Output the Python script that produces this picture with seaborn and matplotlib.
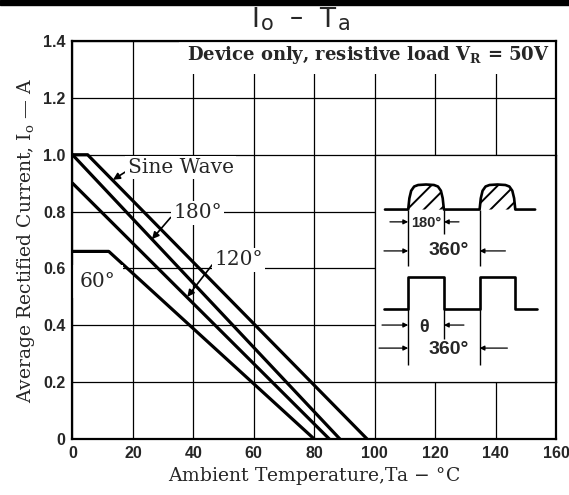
import numpy as np
import pandas as pd
import matplotlib
matplotlib.use("Agg")
import matplotlib.pyplot as plt
import seaborn as sns
from matplotlib.patches import Rectangle

# derating curves (Ta in degC, Io in A)
sine_ta = [0, 5, 97.5]
sine_io = [1.0, 1.0, 0.0]
deg180_ta = [0, 88.5]
deg180_io = [1.0, 0.0]
deg120_ta = [0, 85]
deg120_io = [0.9, 0.0]
deg60_ta = [0, 12, 80]
deg60_io = [0.66, 0.66, 0.0]

x_ticks = [0, 20, 40, 60, 80, 100, 120, 140, 160]
y_ticks = [0, 0.2, 0.4, 0.6, 0.8, 1.0, 1.2, 1.4]
y_ticklabels = ["0", "0.2", "0.4", "0.6", "0.8", "1.0", "1.2", "1.4"]

# inset waveform sketch (phase in degrees)
bump_phase = [0, 6, 15, 30, 50, 90, 130, 150, 165, 174, 180]
bump_level = [0, 0.45, 0.75, 0.92, 0.98, 1.0, 0.98, 0.92, 0.75, 0.45, 0]
rect_phase = [-123, 0, 0, 180, 180, 360, 360, 540, 540, 650]
rect_level = [0, 0, 1, 1, 0, 0, 1, 1, 0, 0]

curves = pd.concat([
    pd.DataFrame({"ta": sine_ta, "io": sine_io, "curve": "sine"}),
    pd.DataFrame({"ta": deg180_ta, "io": deg180_io, "curve": "180"}),
    pd.DataFrame({"ta": deg120_ta, "io": deg120_io, "curve": "120"}),
    pd.DataFrame({"ta": deg60_ta, "io": deg60_io, "curve": "60"}),
])

sns.set_style("white")
plt.rcParams["font.family"] = ["DejaVu Serif"]
plt.rcParams["mathtext.fontset"] = "custom"
plt.rcParams["mathtext.rm"] = "DejaVu Serif"
plt.rcParams["mathtext.bf"] = "DejaVu Serif:bold"
plt.rcParams["hatch.linewidth"] = 1.4

fig = plt.figure(figsize=(5.69, 4.95), dpi=100)
ax = fig.add_axes([0.1274, 0.1131, 0.8497, 0.804])

sns.lineplot(data=curves, x="ta", y="io", units="curve", estimator=None,
             sort=False, color="black", lw=2.3, ax=ax)

ax.set_xlim(0, 160)
ax.set_ylim(0, 1.4)
ax.set_xticks(x_ticks)
ax.set_yticks(y_ticks)
ax.set_yticklabels(y_ticklabels)
ax.grid(True, color="black", lw=0.9)
for sp in ax.spines.values():
    sp.set_visible(True)
    sp.set_color("black")
    sp.set_linewidth(1.6)
    sp.set_zorder(6)
ax.tick_params(axis="y", length=4, width=1.2, color="black", pad=1)
ax.tick_params(axis="x", length=0, pad=5)
for lab in ax.get_xticklabels() + ax.get_yticklabels():
    lab.set_fontfamily("Liberation Sans")
    lab.set_fontweight("bold")
    lab.set_fontsize(11.5)

ax.set_xlabel("Ambient Temperature,Ta $-$ °C", fontsize=13.5, labelpad=3)
ax.set_ylabel("Average Rectified Current, I$_\\mathregular{o}$ — A", fontsize=13.5, labelpad=4)

# title "Io - Ta" with lowered o and a
tkw = dict(family="DejaVu Sans", fontsize=19, va="baseline", ha="left")
fig.text(251 / 569, 1 - 27 / 495, "I", **tkw)
fig.text(261 / 569, 1 - 30 / 495, "o", **dict(tkw, fontsize=15))
fig.text(290 / 569, 1 - 25 / 495, "–", **tkw)
fig.text(319 / 569, 1 - 27 / 495, "T", **tkw)
fig.text(338 / 569, 1 - 30 / 495, "a", **dict(tkw, fontsize=15))
fig.add_artist(Rectangle((0, 1 - 5 / 495), 1, 5 / 495, transform=fig.transFigure,
                         color="black"))

white = dict(boxstyle="square,pad=0.12", fc="white", ec="none")
arrow = dict(arrowstyle="-|>", color="black", lw=1.2, shrinkA=0, shrinkB=0,
             mutation_scale=10)

ax.text(98, 1.352, "Device only, resistive load V$_\\mathbf{R}$ = 50V",
        ha="center", va="center", fontsize=13, weight="bold",
        bbox=dict(boxstyle="square,pad=0.45", fc="white", ec="none"))
ax.annotate("Sine Wave", xy=(13.4, 0.912), xytext=(18.3, 0.955), ha="left",
            va="center", fontsize=14.5, bbox=white,
            arrowprops=dict(arrow, relpos=(0, 0.35)))
ax.annotate("180°", xy=(26.3, 0.703), xytext=(33.3, 0.796), ha="left",
            va="center", fontsize=14.5, bbox=white,
            arrowprops=dict(arrow, relpos=(0, 0.4)))
ax.annotate("120°", xy=(38.0, 0.5), xytext=(47.0, 0.63), ha="left",
            va="center", fontsize=14.5, bbox=white,
            arrowprops=dict(arrow, relpos=(0, 0.4)))
ax.text(8.4, 0.553, "60°", ha="center", va="center", fontsize=14.5,
        bbox=dict(boxstyle="square,pad=0.35", fc="white", ec="none"))

# inset sketch of the waveforms
ins = ax.inset_axes([100, 0.2, 60, 0.8], transform=ax.transData, zorder=4)
ins.set_xlim(-169, 745)
ins.set_ylim(383, 156)
ins.set_xticks([])
ins.set_yticks([])
ins.set_facecolor("white")
for sp in ins.spines.values():
    sp.set_visible(True)
    sp.set_color("black")
    sp.set_linewidth(0.9)

sine_base, sine_amp = 210.7, 25
sine_x = [-117] + bump_phase + [p + 360 for p in bump_phase] + [640]
sine_y = [0] + bump_level + bump_level + [0]
sine_df = pd.DataFrame({"ph": sine_x, "row": [sine_base - sine_amp * v for v in sine_y]})
sns.lineplot(data=sine_df, x="ph", y="row", sort=False, estimator=None,
             color="black", lw=1.9, ax=ins)
for off in (0, 360):
    ins.fill_between([p + off for p in bump_phase], sine_base,
                     [sine_base - sine_amp * v for v in bump_level],
                     facecolor="none", edgecolor="black", hatch="//", linewidth=0)

rect_base, rect_amp = 310, 32
rect_df = pd.DataFrame({"ph": rect_phase, "row": [rect_base - rect_amp * v for v in rect_level]})
sns.lineplot(data=rect_df, x="ph", y="row", sort=False, estimator=None,
             color="black", lw=1.9, ax=ins)
ins.set_xlabel("")
ins.set_ylabel("")

small_arrow = dict(arrowstyle="-|>", color="black", lw=0.9, shrinkA=0, shrinkB=0,
                   mutation_scale=7)
ins.vlines([0, 360], sine_base, 267, color="black", lw=1.0)
ins.vlines([180], sine_base, 235, color="black", lw=1.0)
ins.vlines([0, 360], rect_base, 366, color="black", lw=1.0)
ins.vlines([180], rect_base, 340, color="black", lw=1.0)
for row, a, b, tail_a, tail_b in [(223, 0, 180, -92, 256), (252, 0, 360, -122, 490),
                                  (326, 0, 180, -132, 281), (349, 0, 360, -147, 500)]:
    ins.annotate("", xy=(a, row), xytext=(tail_a, row), arrowprops=small_arrow)
    ins.annotate("", xy=(b, row), xytext=(tail_b, row), arrowprops=small_arrow)
sans = dict(family="Liberation Sans", weight="bold", ha="center", va="center")
ins.text(90, 224, "180°", fontsize=10.5, **sans)
ins.text(205, 252, "360°", fontsize=14, **sans)
ins.text(82, 328, "θ", fontsize=13, **sans)
ins.text(205, 350, "360°", fontsize=14, **sans)

ax.set_xlim(0, 160)
ax.set_ylim(0, 1.4)
fig.savefig("out.png", dpi=100)
